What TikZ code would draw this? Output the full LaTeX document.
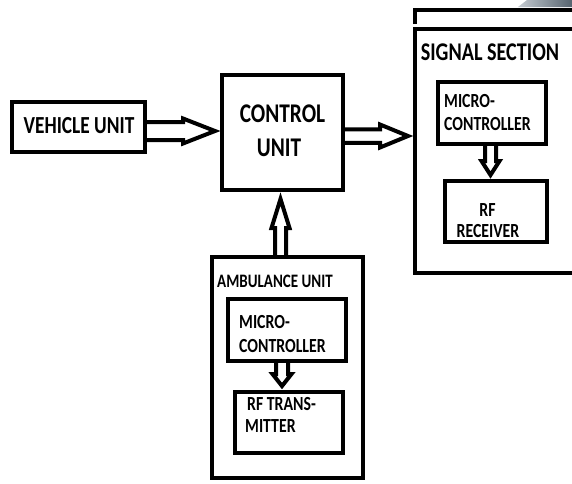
\documentclass[tikz,border=0pt]{standalone}
\usepackage{fontspec}
\setmainfont{Carlito}[FakeStretch=0.79]
\usetikzlibrary{calc}
\definecolor{swooshdark}{HTML}{56646F}
\definecolor{swooshlight}{HTML}{C4CAD0}
\begin{document}
\begin{tikzpicture}[x=1pt,y=-1pt,
  box/.style={draw,line width=4pt,inner sep=0pt},
  txt/.style={inner sep=0pt,anchor=base,font=\bfseries\fontsize{#1pt}{#1pt}\selectfont},
  txtl/.style={inner sep=0pt,anchor=base west,font=\bfseries\fontsize{#1pt}{#1pt}\selectfont},
  fat/.style={draw,line width=4pt,line join=miter}]
\useasboundingbox (0,0) rectangle (572,483);
\clip (0,0) rectangle (572,483);
\fill[white] (0,0) rectangle (572,483);
\shade[left color=swooshlight,right color=swooshdark] (518,7) -- (527,0) -- (572,0) -- (572,7) -- cycle;

% boxes
\node[box,minimum width=133pt,minimum height=50pt] (veh) at (78.5,127) {};
\node[box,minimum width=121pt,minimum height=115pt] (ctl) at (282.5,132.5) {};
\node[box,minimum width=185pt,minimum height=244pt] (sig) at (507.5,151) {};
\coordinate (stubA) at (415,24);
\coordinate (stubB) at (415,10);
\coordinate (stubC) at (580,10);
\draw[line width=4pt] (stubA) -- (stubB) -- (stubC);
\node[box,minimum width=108pt,minimum height=62pt] (smc) at (492,113) {};
\node[box,minimum width=102pt,minimum height=61pt] (srf) at (496,211.5) {};
\node[box,minimum width=151pt,minimum height=221pt] (amb) at (287.5,367.5) {};
\node[box,minimum width=118pt,minimum height=62pt] (amc) at (287,330) {};
\node[box,minimum width=108pt,minimum height=61pt] (arf) at (289,422.5) {};

% texts
\node[txt=24.5] (tveh) at (79,133) {VEHICLE UNIT};
\node[txt=27] (tctl1) at (282.5,122) {CONTROL};
\node[txt=27] (tctl2) at (279,156) {UNIT};
\node[txt=25.5] (tsig) at (490,60) {SIGNAL SECTION};
\node[txtl=20] (tsmc1) at (444,107) {MICRO-};
\node[txtl=20] (tsmc2) at (444,130) {CONTROLLER};
\node[txt=20] (tsrf1) at (487.5,216) {RF};
\node[txt=20] (tsrf2) at (488,237) {RECEIVER};
\node[txtl=19] (tamb) at (217,287) {AMBULANCE UNIT};
\node[txtl=20] (tamc1) at (239,328) {MICRO-};
\node[txtl=20] (tamc2) at (239,352) {CONTROLLER};
\node[txtl=20] (tarf1) at (247,410) {RF TRANS-};
\node[txtl=20] (tarf2) at (245,432) {MITTER};

% vehicle -> control
\coordinate (s1) at ($(veh.east)+(0,4)$);
\coordinate (t1) at ($(ctl.west |- s1)+(-5,0)$);
\draw[fat] ($(s1)+(0,-9)$) -- ($(t1)+(-32,-9)$) -- ($(t1)+(-32,-12.5)$) -- (t1)
  -- ($(t1)+(-32,12.5)$) -- ($(t1)+(-32,9)$) -- ($(s1)+(0,9)$);

% control -> signal section
\coordinate (s2) at ($(ctl.east)+(0,3.5)$);
\coordinate (t2) at ($(sig.west |- s2)+(-5,0)$);
\draw[fat] ($(s2)+(0,-6.75)$) -- ($(t2)+(-28,-6.75)$) -- ($(t2)+(-28,-11.5)$) -- (t2)
  -- ($(t2)+(-28,11.5)$) -- ($(t2)+(-28,6.75)$) -- ($(s2)+(0,6.75)$);

% ambulance -> control
\coordinate (s3) at ($(amb.north)+(-7,0)$);
\coordinate (t3) at ($(ctl.south -| s3)+(0,7)$);
\draw[fat] ($(s3)+(-5.5,0)$) -- ($(t3)+(-5.5,29)$) -- ($(t3)+(-9,29)$) -- (t3)
  -- ($(t3)+(9,29)$) -- ($(t3)+(5.5,29)$) -- ($(s3)+(5.5,0)$);

% signal micro -> rf receiver
\coordinate (s4) at ($(smc.south)+(-1.5,0)$);
\coordinate (t4) at ($(srf.north -| s4)+(0,-4)$);
\draw[fat] ($(s4)+(-5.5,0)$) -- ($(t4)+(-5.5,-14)$) -- ($(t4)+(-9,-14)$) -- (t4)
  -- ($(t4)+(9,-14)$) -- ($(t4)+(5.5,-14)$) -- ($(s4)+(5.5,0)$);

% ambulance micro -> rf transmitter
\coordinate (s5) at ($(amc.south)+(-5,0)$);
\coordinate (t5) at ($(arf.north -| s5)+(0,-4)$);
\draw[fat] ($(s5)+(-6,0)$) -- ($(t5)+(-6,-12)$) -- ($(t5)+(-9.5,-12)$) -- (t5)
  -- ($(t5)+(9.5,-12)$) -- ($(t5)+(6,-12)$) -- ($(s5)+(6,0)$);
\end{tikzpicture}
\end{document}
